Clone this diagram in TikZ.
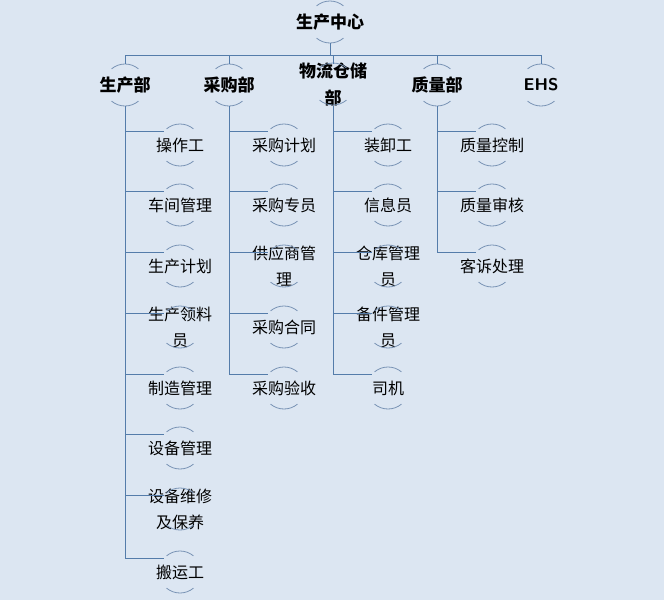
\documentclass[tikz,border=0pt]{standalone}
\usepackage{fontspec}
\setmainfont{Noto Sans CJK SC}
\definecolor{bg}{RGB}{220,230,242}
\definecolor{lnc}{RGB}{84,124,170}
\definecolor{arc}{RGB}{120,146,180}
\begin{document}
\begin{tikzpicture}[x=1pt,y=-1pt,
  bub/.style={inner sep=0pt,align=center,text=black,font=\fontsize{16}{26}\selectfont},
  dept/.style={bub,font=\fontsize{17}{27}\selectfont\bfseries},
  arcl/.style={draw=arc,line width=0.8pt},
  ln/.style={draw=lnc,line width=0.9pt}]
\useasboundingbox (0,0) rectangle (664,600);
\fill[bg] (0,0) rectangle (664,600);
\newcommand{\bubarcs}[1]{\draw[arcl] (#1.center) ++(50:21pt) arc (50:130:21pt); \draw[arcl] (#1.center) ++(230:21pt) arc (230:310:21pt);}
\node[dept] (root) at (330,22) {生产中心};
\coordinate (bus) at (330,55);
\node[dept] (d1) at (125,85) {生产部};
\node[dept] (d2) at (229,85) {采购部};
\node[dept] (d3) at (333,84) {物流仓储\\部};
\node[dept,font=\fontsize{17}{20}\selectfont\sffamily\bfseries] (d5) at (541,85) {EHS};
\node[dept] (d4) at (437,85) {质量部};
\foreach \n in {root,d1,d2,d3,d4,d5} {\bubarcs{\n}}
\draw[ln] (root.center) ++(0,21) -- (bus);
\foreach \d/\x in {d1/125,d2/229,d3/333,d4/437,d5/541} {\draw[ln] (bus) -| (\x,64);}
\foreach \name/\x/\y/\t/\d in {
 a1/180/145/操作工/125, a2/180/205/车间管理/125, a3/180/266/生产计划/125, a4/180/327/生产领料\\员/125,
 a5/180/388/制造管理/125, a6/180/448/设备管理/125, a7/180/509/设备维修\\及保养/125, a8/180/572/搬运工/125,
 b1/284/145/采购计划/229, b2/284/205/采购专员/229, b3/284/266/供应商管\\理/229, b4/284/327/采购合同/229, b5/284/388/采购验收/229,
 c1/388/145/装卸工/333, c2/388/205/信息员/333, c3/388/266/仓库管理\\员/333, c4/388/327/备件管理\\员/333, c5/388/388/司机/333,
 e1/492/145/质量控制/437, e2/492/205/质量审核/437, e3/492/266/客诉处理/437} {
  \node[bub] (\name) at (\x,\y) {\t};
  \bubarcs{\name}
  \draw[ln] (\d,106) |- (\x-16,\y-14);
}
\end{tikzpicture}
\end{document}
